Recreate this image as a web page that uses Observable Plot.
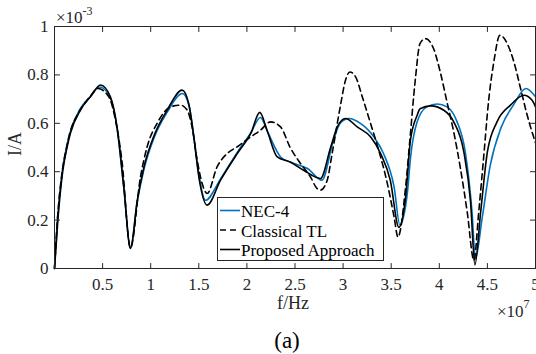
<!DOCTYPE html>
<html><head><meta charset="utf-8">
<script src="https://cdn.jsdelivr.net/npm/d3@7"></script>
<script src="https://cdn.jsdelivr.net/npm/@observablehq/plot@0.6"></script>
<style>
body{margin:0;background:#fff;}
#chart{position:relative;width:536px;height:354px;overflow:hidden;}
#chart svg, #chart svg text, #chart svg tspan{font-family:'Liberation Serif','Times New Roman',serif !important;}
</style></head><body><div id="chart"></div>
<script>
// frequency in units of 1e7 Hz, current in units of 1e-3 A
const seriesNames = ["NEC-4", "Classical TL", "Proposed Approach"];
const seriesColors = ["#0072BD", "#000000", "#000000"];
const seriesDash = [null, "6,4", null];

const necF = [0,0.03,0.08,0.125,0.16,0.26,0.37,0.47,0.58,0.65,0.72,0.79,0.86,0.93,1.03,1.17,1.33,1.40,1.45,1.5,1.57,1.726,1.9,2.04,2.14,2.22,2.35,2.45,2.63,2.78,2.9,2.97,3.06,3.18,3.32,3.42,3.53,3.59,3.67,3.70,3.77,3.87,3.98,4.08,4.185,4.27,4.34,4.375,4.445,4.53,4.64,4.77,4.9,5.0];
const necI = [0,0.2,0.4,0.5,0.56,0.655,0.71,0.75,0.705,0.58,0.335,0.085,0.275,0.41,0.535,0.645,0.723,0.67,0.54,0.39,0.282,0.37,0.48,0.56,0.624,0.56,0.461,0.44,0.413,0.365,0.53,0.6,0.62,0.6,0.544,0.475,0.337,0.18,0.32,0.455,0.606,0.668,0.68,0.668,0.606,0.482,0.234,0.04,0.207,0.427,0.58,0.675,0.744,0.71];

const tlF = [0,0.03,0.08,0.125,0.16,0.26,0.37,0.45,0.565,0.634,0.70,0.79,0.894,0.963,1.067,1.206,1.31,1.38,1.43,1.483,1.535,1.587,1.69,1.795,1.9,2.04,2.14,2.245,2.35,2.45,2.557,2.66,2.73,2.765,2.835,2.886,2.97,3.025,3.07,3.13,3.2,3.285,3.37,3.46,3.53,3.57,3.65,3.70,3.75,3.80,3.857,3.94,4.01,4.08,4.15,4.22,4.29,4.36,4.41,4.46,4.515,4.567,4.63,4.705,4.775,4.845,4.914,4.98,5.0];
const tlI = [0,0.2,0.4,0.5,0.56,0.65,0.71,0.744,0.709,0.613,0.448,0.085,0.379,0.503,0.6,0.668,0.675,0.654,0.585,0.448,0.351,0.31,0.42,0.475,0.503,0.544,0.571,0.606,0.585,0.5,0.434,0.379,0.33,0.324,0.365,0.475,0.668,0.778,0.812,0.792,0.709,0.6,0.489,0.351,0.213,0.13,0.337,0.558,0.778,0.93,0.95,0.909,0.812,0.688,0.564,0.413,0.234,0.034,0.234,0.455,0.702,0.854,0.964,0.93,0.854,0.744,0.633,0.544,0.52];

const propF = [0,0.035,0.085,0.13,0.166,0.27,0.374,0.478,0.58,0.65,0.72,0.79,0.86,0.93,1.03,1.17,1.327,1.396,1.448,1.5,1.587,1.726,1.9,2.04,2.134,2.21,2.315,2.45,2.59,2.765,2.87,2.94,3.025,3.147,3.285,3.39,3.49,3.58,3.65,3.70,3.77,3.80,3.91,4.047,4.15,4.255,4.325,4.37,4.43,4.5,4.6,4.74,4.88,4.965,5.0];
const propI = [0,0.2,0.4,0.5,0.56,0.655,0.71,0.758,0.71,0.585,0.337,0.083,0.28,0.42,0.544,0.654,0.737,0.68,0.544,0.38,0.262,0.365,0.475,0.558,0.645,0.57,0.461,0.44,0.406,0.372,0.5,0.585,0.62,0.585,0.544,0.475,0.365,0.17,0.296,0.53,0.633,0.66,0.672,0.654,0.606,0.482,0.275,0.015,0.234,0.482,0.606,0.675,0.716,0.695,0.668];

const xTicks = [0.5,1,1.5,2,2.5,3,3.5,4,4.5,5];
const xTickLabels = ["0.5","1","1.5","2","2.5","3","3.5","4","4.5","5"];
const yTicks = [0,0.2,0.4,0.6,0.8,1];
const yTickLabels = ["0","0.2","0.4","0.6","0.8","1"];

const toRows = (F, I, s) => F.map((f, i) => ({f, I: I[i], s}));
const rows = [
  ...toRows(necF, necI, seriesNames[0]),
  ...toRows(tlF, tlI, seriesNames[1]),
  ...toRows(propF, propI, seriesNames[2])
];

const axisColor = "#262626";
const font = "'Liberation Serif', 'Times New Roman', serif";
const tickShape = {draw(context, l) { context.moveTo(0, 0); context.lineTo(0, -l); }};
const tickOpts = {anchor: "start", length: 5, shape: tickShape, stroke: axisColor, strokeWidth: 1};

const lineMarks = seriesNames.map((name, k) =>
  Plot.line(rows.filter(d => d.s === name), {
    x: "f", y: "I", stroke: seriesColors[k], strokeWidth: 1.6,
    strokeDasharray: seriesDash[k] || undefined, curve: "monotone-x"
  })
);

const plot = Plot.plot({
  width: 536, height: 354,
  marginLeft: 54, marginRight: 1, marginTop: 26, marginBottom: 86,
  style: {fontFamily: font, fontSize: "17px", color: axisColor, background: "white", overflow: "visible"},
  x: {domain: [0, 5]},
  y: {domain: [0, 1]},
  marks: [
    ...lineMarks,
    Plot.frame({stroke: axisColor, strokeWidth: 1}),
    Plot.axisX(xTicks, {tickSize: 0, tickPadding: 9, label: null, fontSize: 17, tickFormat: (d) => xTickLabels[xTicks.indexOf(d)]}),
    Plot.axisY(yTicks, {tickSize: 0, tickPadding: 6, label: null, fontSize: 17, tickFormat: (d) => yTickLabels[yTicks.indexOf(d)]}),
    Plot.vector(xTicks, {x: d => d, frameAnchor: "bottom", rotate: 0, ...tickOpts}),
    Plot.vector(xTicks, {x: d => d, frameAnchor: "top", rotate: 180, ...tickOpts}),
    Plot.vector(yTicks, {y: d => d, frameAnchor: "left", rotate: 90, ...tickOpts}),
    Plot.vector(yTicks, {y: d => d, frameAnchor: "right", rotate: -90, ...tickOpts})
  ]
});
document.getElementById("chart").appendChild(plot);

const svg = d3.select(plot);
// axis labels
svg.append("text").attr("x", 293).attr("y", 309).attr("text-anchor", "middle")
  .attr("font-size", 18).attr("fill", axisColor).text("f/Hz");
svg.append("text").attr("transform", "translate(21,144) rotate(-90)").attr("text-anchor", "middle")
  .attr("font-size", 18).attr("fill", axisColor).text("I/A");
svg.append("text").attr("x", 287).attr("y", 348).attr("text-anchor", "middle")
  .attr("font-size", 23).attr("fill", "#000").text("(a)");
// exponent labels
const e1 = svg.append("text").attr("x", 56).attr("y", 23).attr("text-anchor", "start")
  .attr("font-size", 17).attr("fill", axisColor);
e1.append("tspan").text("×10");
e1.append("tspan").attr("font-size", 12).attr("dy", -8).text("-3");
const e2 = svg.append("text").attr("x", 497).attr("y", 317).attr("text-anchor", "start")
  .attr("font-size", 17).attr("fill", axisColor);
e2.append("tspan").text("×10");
e2.append("tspan").attr("font-size", 12).attr("dy", -9).text("7");

// legend
const lg = svg.append("g");
lg.append("rect").attr("x", 217.5).attr("y", 197.5).attr("width", 166).attr("height", 63)
  .attr("fill", "white").attr("stroke", axisColor).attr("stroke-width", 1);
const rowY = [210.5, 230, 249.5];
seriesNames.forEach((name, k) => {
  lg.append("line").attr("x1", 220).attr("x2", 240).attr("y1", rowY[k]).attr("y2", rowY[k])
    .attr("stroke", seriesColors[k]).attr("stroke-width", 1.6)
    .attr("stroke-dasharray", seriesDash[k]);
  lg.append("text").attr("x", 241).attr("y", rowY[k] + 6.5).attr("text-anchor", "start")
    .attr("font-size", 17).attr("fill", "#000").text(name);
});
</script></body></html>
